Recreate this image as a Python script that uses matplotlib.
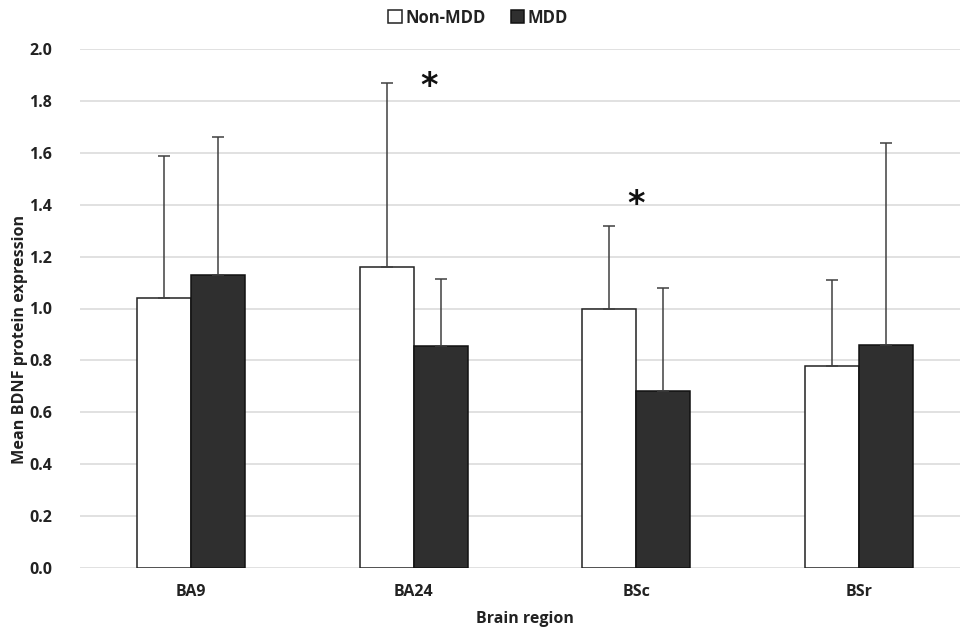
import numpy as np
import matplotlib.pyplot as plt

# Werte
regions = ['BA9', 'BA24', 'BSc', 'BSr']
non_mdd = [1.04, 1.16, 1.00, 0.78]
non_mdd_err = [0.55, 0.71, 0.32, 0.33]
mdd = [1.13, 0.855, 0.68, 0.86]
mdd_err = [0.53, 0.26, 0.40, 0.78]
stars = [('BA24', 1.07, 1.855), ('BSc', 2.0, 1.40)]

plt.rcParams['font.family'] = ['Open Sans', 'DejaVu Sans']
plt.rcParams['font.weight'] = 'bold'
plt.rcParams['axes.labelweight'] = 'bold'

fig = plt.figure(figsize=(9.6, 6.35), dpi=100)
ax = fig.add_axes([80 / 960, 67.3 / 635, 890 / 960, 518.4 / 635])

x = np.arange(len(regions))
w = 0.243
err_kw = dict(ecolor='#404040', elinewidth=1.1, capsize=4, capthick=1.1)

ax.bar(x - w / 2, non_mdd, w, color='white', edgecolor='#222222', linewidth=1.1,
       yerr=[np.zeros(4), non_mdd_err], error_kw=err_kw, label='Non-MDD', zorder=3)
ax.bar(x + w / 2, mdd, w, color='#2f2f2f', edgecolor='#111111', linewidth=1.1,
       yerr=[np.zeros(4), mdd_err], error_kw=err_kw, label='MDD', zorder=3)

for name, sx, sy in stars:
    ax.text(sx, sy, '*', ha='center', va='center', fontsize=24, fontweight='bold',
            color='#111111', family='DejaVu Sans')

ax.set_xlim(-0.5, 3.5)
ax.set_ylim(0, 2.0)
ax.set_yticks(np.arange(0, 2.01, 0.2))
ax.set_yticklabels([f'{v:.1f}' for v in np.arange(0, 2.01, 0.2)], fontweight='bold')
ax.set_xticks(x)
ax.set_xticklabels(regions, fontweight='bold')
ax.tick_params(length=0, labelsize=11.5, colors='#222222', pad=12)
ax.tick_params(axis='y', pad=20)
ax.grid(axis='y', color='#d9d9d9', linewidth=1.1, zorder=0)
ax.set_axisbelow(True)
for s in ax.spines.values():
    s.set_visible(False)

ax.set_ylabel('Mean BDNF protein expression', fontsize=11.6, color='#222222', fontweight='bold')
ax.set_xlabel('Brain region', fontsize=11.5, color='#222222', labelpad=8, fontweight='bold')
ax.yaxis.set_label_coords(-0.058, 0.44)

fig.legend(loc='upper center', bbox_to_anchor=(478 / 960, 1.01), ncol=2, frameon=False,
           prop={'size': 12, 'weight': 'bold'}, handlelength=0.8, handleheight=0.8,
           handletextpad=0.2, columnspacing=1.5, labelcolor='#222222')

fig.savefig('out.png', dpi=100)
